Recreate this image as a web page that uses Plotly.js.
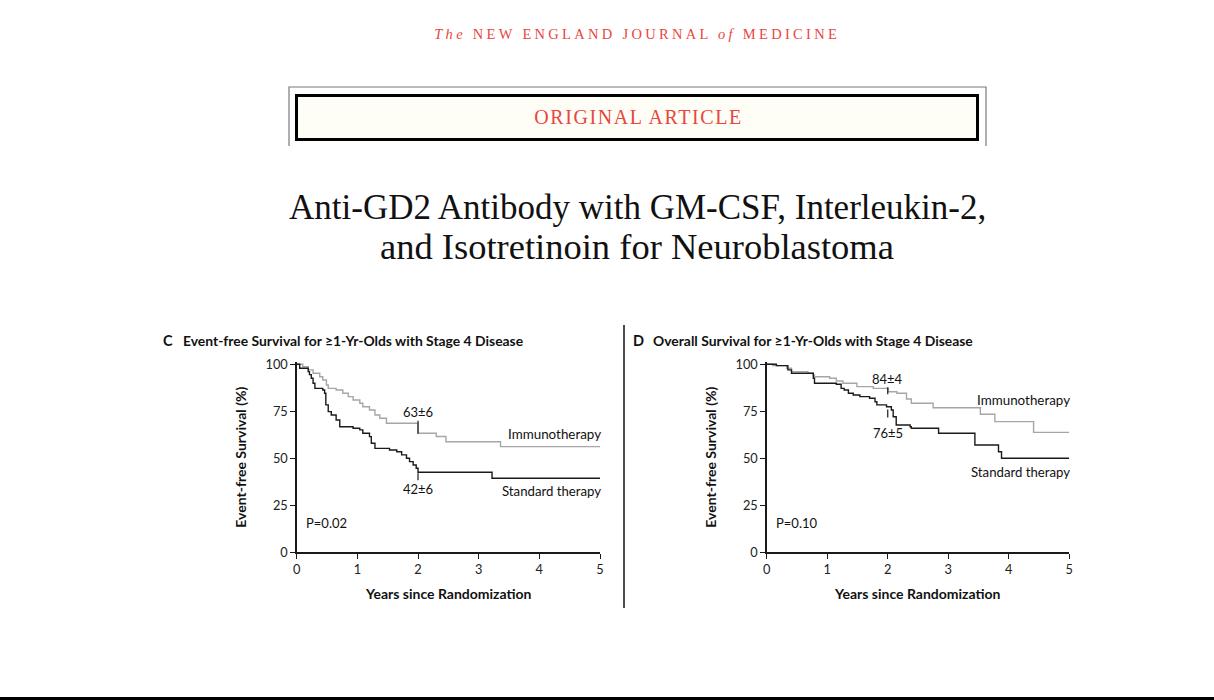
<!DOCTYPE html>
<html>
<head>
<meta charset="utf-8">
<script src="https://cdn.plot.ly/plotly-3.0.1.min.js"></script>
<style>
html,body{margin:0;padding:0;background:#fff;}
#chart{width:1214px;height:700px;}
.annotation[data-index="0"] .annotation-text{letter-spacing:3.3px;}
.annotation[data-index="1"] .annotation-text{letter-spacing:1.6px;}
</style>
</head>
<body>
<div id="chart"></div>
<script>
// ---------- data ----------
const yearTicks = [0, 1, 2, 3, 4, 5];
const pctTicks = [0, 25, 50, 75, 100];
const seriesNames = ['Immunotherapy', 'Standard therapy'];

// Panel C: event-free survival (%), years since randomization
const efsImmunoT = [0, 0.10, 0.19, 0.27, 0.38, 0.43, 0.49, 0.52, 0.65, 0.76, 0.85, 0.93, 1.04, 1.09, 1.20, 1.29, 1.37, 1.48, 2.00, 2.30, 2.46, 3.36, 5.0];
const efsImmunoS = [100, 98.7, 97.0, 95.2, 93.4, 91.6, 89.0, 87.2, 86.3, 84.6, 82.8, 81.0, 79.3, 77.4, 75.7, 73.0, 71.3, 68.6, 63.3, 61.6, 58.8, 56.2, 56.2];
const efsStdT = [0, 0.05, 0.19, 0.21, 0.24, 0.27, 0.30, 0.43, 0.46, 0.48, 0.52, 0.57, 0.65, 0.71, 0.93, 1.04, 1.09, 1.20, 1.23, 1.29, 1.53, 1.65, 1.73, 1.81, 1.86, 1.92, 1.97, 2.00, 3.22, 5.0];
const efsStdS = [100, 97.9, 96.1, 94.5, 92.6, 89.9, 87.2, 86.3, 84.6, 78.4, 74.8, 73.0, 70.4, 66.8, 66.0, 65.1, 63.3, 61.5, 58.0, 55.3, 54.4, 53.5, 51.8, 50.0, 48.2, 46.4, 44.7, 42.6, 39.4, 39.4];
const efsEst2yr = [63, 42];
const efsSE2yr = [6, 6];
const efsP = '0.02';

// Panel D: overall survival (%)
const osImmunoT = [0, 0.10, 0.33, 0.41, 0.68, 0.77, 0.79, 1.04, 1.15, 1.26, 1.49, 1.76, 2.01, 2.15, 2.31, 2.39, 2.75, 3.53, 3.77, 4.41, 5.0];
const osImmunoS = [100, 99.3, 97.9, 96.1, 95.2, 94.3, 93.4, 92.6, 91.1, 89.9, 88.1, 87.2, 85.4, 84.6, 81.5, 79.3, 76.9, 73.4, 69.5, 63.8, 63.8];
const osStdT = [0, 0.16, 0.35, 0.41, 0.77, 0.79, 1.15, 1.23, 1.28, 1.35, 1.43, 1.54, 1.70, 1.79, 1.82, 1.98, 2.06, 2.09, 2.14, 2.37, 2.39, 2.84, 3.44, 3.83, 3.88, 5.0];
const osStdS = [100, 99.3, 97.0, 95.2, 92.6, 89.9, 89.4, 87.2, 86.3, 84.6, 83.7, 82.8, 81.9, 80.1, 78.4, 77.4, 75.7, 72.1, 67.7, 66.8, 66.0, 63.3, 57.1, 53.5, 50.0, 50.0];
const osEst2yr = [84, 76];
const osSE2yr = [4, 5];
const osP = '0.10';
const estYear = 2;

// ---------- layout helpers ----------
const W = 1214, H = 700;
const X = p => p / W;
const Y = p => 1 - p / H;
const GRAY = '#a6a6a6', BLACK = '#1a1a1a', RED = '#e8463e';
const SANS = 'Lato, "Open Sans", sans-serif';
const SERIF = '"Liberation Serif", "DejaVu Serif", serif';

function curve(t, s, color, xa, ya, name) {
  return {x: t, y: s, xaxis: xa, yaxis: ya, type: 'scatter', mode: 'lines', name: name,
    line: {shape: 'hv', color: color, width: 1.4}, hoverinfo: 'skip', showlegend: false};
}

const traces = [
  curve(efsImmunoT, efsImmunoS, GRAY, 'x', 'y', seriesNames[0]),
  curve(efsStdT, efsStdS, BLACK, 'x', 'y', seriesNames[1]),
  curve(osImmunoT, osImmunoS, GRAY, 'x2', 'y2', seriesNames[0]),
  curve(osStdT, osStdS, BLACK, 'x2', 'y2', seriesNames[1])
];

function xAx(dom, anchor) {
  return {domain: dom, range: [0, 5], anchor: anchor, tickvals: yearTicks, ticktext: yearTicks.map(String),
    ticks: 'outside', ticklen: 5, tickwidth: 1, tickcolor: BLACK, showline: true, linecolor: BLACK, linewidth: 1.4,
    showgrid: false, zeroline: false, tickfont: {family: SANS, size: 12.8, color: '#222'}, fixedrange: true};
}
function yAx(anchor) {
  return {domain: [Y(552.3), Y(362.4)], range: [0, 101], anchor: anchor, tickvals: pctTicks, ticktext: pctTicks.map(String),
    ticks: 'outside', ticklen: 5, tickwidth: 1, tickcolor: BLACK, showline: true, linecolor: BLACK, linewidth: 1.4,
    showgrid: false, zeroline: false, tickfont: {family: SANS, size: 12.8, color: '#222'}, fixedrange: true};
}

const ann = [];
// header (index 0) and banner text (index 1)
ann.push({xref: 'paper', yref: 'paper', x: X(637), y: Y(34), xanchor: 'center', yanchor: 'middle', showarrow: false,
  text: '<i>The</i> NEW ENGLAND JOURNAL <i>of</i> MEDICINE', font: {family: SERIF, size: 14.5, color: RED}});
ann.push({xref: 'paper', yref: 'paper', x: X(638), y: Y(117), xanchor: 'center', yanchor: 'middle', showarrow: false,
  text: 'ORIGINAL ARTICLE', font: {family: SERIF, size: 20, color: RED}});
// article title
ann.push({xref: 'paper', yref: 'paper', x: X(637), y: Y(207), xanchor: 'center', yanchor: 'middle', showarrow: false,
  text: 'Anti-GD2 Antibody with GM-CSF, Interleukin-2,', font: {family: SERIF, size: 35, color: '#111'}});
ann.push({xref: 'paper', yref: 'paper', x: X(637), y: Y(246), xanchor: 'center', yanchor: 'middle', showarrow: false,
  text: 'and Isotretinoin for Neuroblastoma', font: {family: SERIF, size: 36.5, color: '#111'}});

function panelText(p) {
  const f = (sz) => ({family: SANS, size: sz, color: '#111'});
  ann.push({xref: 'paper', yref: 'paper', x: X(p.letterX), y: Y(340), xanchor: 'left', yanchor: 'middle', showarrow: false,
    text: '<b>' + p.letter + '</b>', font: f(14.5)});
  ann.push({xref: 'paper', yref: 'paper', x: X(p.letterX + 20), y: Y(340), xanchor: 'left', yanchor: 'middle', showarrow: false,
    text: '<b>' + p.title + '</b>', font: f(13.9)});
  ann.push({xref: 'paper', yref: 'paper', x: X((p.x0 + p.x5) / 2), y: Y(593), xanchor: 'center', yanchor: 'middle', showarrow: false,
    text: '<b>Years since Randomization</b>', font: f(14)});
  ann.push({xref: 'paper', yref: 'paper', x: X(p.x0 - 56), y: Y(457), xanchor: 'center', yanchor: 'middle', showarrow: false,
    textangle: -90, text: '<b>Event-free Survival (%)</b>', font: f(14)});
  ann.push({xref: 'paper', yref: 'paper', x: X(p.x5 + 3), y: Y(p.imY), xanchor: 'right', yanchor: 'middle', showarrow: false,
    text: seriesNames[0], font: f(13.4)});
  ann.push({xref: 'paper', yref: 'paper', x: X(p.x5 + 3), y: Y(p.stY), xanchor: 'right', yanchor: 'middle', showarrow: false,
    text: seriesNames[1], font: f(13.2)});
  ann.push({xref: 'paper', yref: 'paper', x: X(p.x0 + 7), y: Y(523), xanchor: 'left', yanchor: 'middle', showarrow: false,
    text: 'P=' + p.pval, font: f(13)});
  for (let i = 0; i < 2; i++) {
    ann.push({xref: p.xa, yref: p.ya, x: estYear, y: p.est[i], xanchor: 'center', yanchor: 'middle', showarrow: false,
      yshift: p.estShift[i], text: p.est[i] + '±' + p.se[i], font: f(13)});
  }
}
panelText({x0: 296.7, x5: 600, letterX: 161, letter: 'C', title: 'Event-free Survival for ≥1-Yr-Olds with Stage 4 Disease',
  est: efsEst2yr, se: efsSE2yr, estShift: [22, -16], imY: 434, stY: 491, pval: efsP, xa: 'x', ya: 'y'});
panelText({x0: 766.7, x5: 1069.3, letterX: 631, letter: 'D', title: 'Overall Survival for ≥1-Yr-Olds with Stage 4 Disease',
  est: osEst2yr, se: osSE2yr, estShift: [15, -24], imY: 400, stY: 472, pval: osP, xa: 'x2', ya: 'y2'});

const shapes = [
  {type: 'path', xref: 'paper', yref: 'paper', path: `M${X(289)},${Y(146)} L${X(289)},${Y(87)} L${X(986)},${Y(87)} L${X(986)},${Y(146)}`,
    line: {color: '#7a7a7a', width: 1.2}},
  {type: 'rect', xref: 'paper', yref: 'paper', x0: X(296.5), x1: X(977.5), y0: Y(139.5), y1: Y(95.5),
    fillcolor: '#fffef6', line: {color: '#000', width: 3}},
  {type: 'line', xref: 'paper', yref: 'paper', x0: X(624), x1: X(624), y0: Y(325), y1: Y(608), line: {color: '#111', width: 1.5}},
  {type: 'rect', xref: 'paper', yref: 'paper', x0: 0, x1: 1, y0: 0, y1: Y(697), fillcolor: '#000', line: {width: 0}}
];
function estTick(xa, ya, v, len, color) {
  shapes.push({type: 'line', xref: xa, yref: ya, x0: estYear, x1: estYear, ysizemode: 'pixel', yanchor: v, y0: 0, y1: len,
    line: {color: color, width: 1.2}});
}
estTick('x', 'y', efsEst2yr[0], 13, BLACK);
estTick('x', 'y', efsEst2yr[1], -7, BLACK);
estTick('x2', 'y2', osEst2yr[0], 7, BLACK);
estTick('x2', 'y2', osEst2yr[1], -8, BLACK);

const layout = {
  width: W, height: H, margin: {l: 0, r: 0, t: 0, b: 0},
  paper_bgcolor: '#fff', plot_bgcolor: 'rgba(0,0,0,0)', showlegend: false,
  xaxis: xAx([X(296.7), X(600)], 'y'),
  yaxis: yAx('x'),
  xaxis2: xAx([X(766.7), X(1069.3)], 'y2'),
  yaxis2: yAx('x2'),
  annotations: ann, shapes: shapes
};
Plotly.newPlot('chart', traces, layout, {displayModeBar: false, staticPlot: true});
</script>
</body>
</html>
